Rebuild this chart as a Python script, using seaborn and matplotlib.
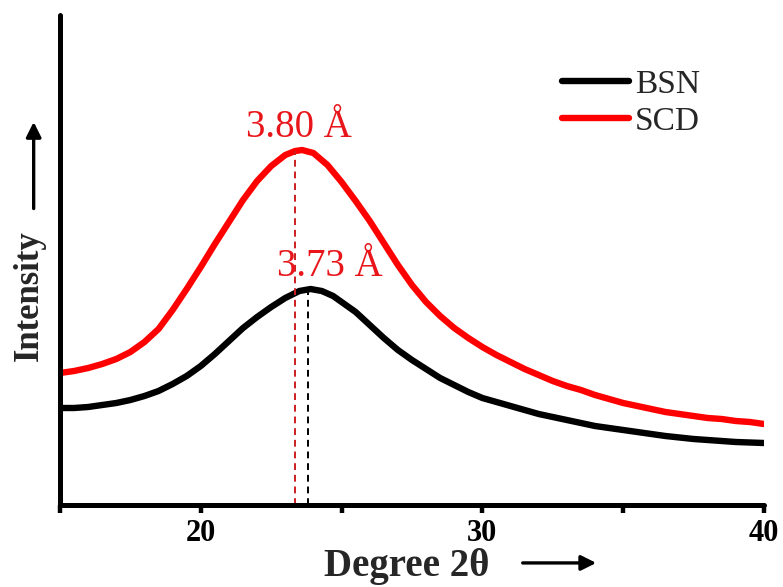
import numpy as np
import pandas as pd
import matplotlib
matplotlib.use("Agg")
import matplotlib.pyplot as plt
import seaborn as sns

# XRD profiles (2θ in degrees, intensity in arbitrary units)
two_theta_scd = [15.0, 15.5, 16.0, 16.5, 17.0, 17.5, 18.0, 18.5, 19.0, 19.5,
                 20.0, 20.5, 21.0, 21.5, 22.0, 22.5, 23.0, 23.35, 23.6, 24.0,
                 24.5, 25.0, 25.5, 26.0, 26.5, 27.0, 27.5, 28.0, 28.5, 29.0,
                 29.5, 30.0, 30.5, 31.0, 31.5, 32.0, 32.5, 33.0, 33.5, 34.0,
                 34.5, 35.0, 35.5, 36.0, 36.5, 37.0, 37.5, 38.0, 38.5, 39.0,
                 39.5, 40.0]
intensity_scd = [132, 134, 137, 141, 146, 153, 163, 176, 195, 216,
                 238, 261, 283, 305, 324, 339, 350, 354, 355, 352,
                 340, 323, 304, 284, 262, 240, 220, 203, 189, 177,
                 167, 158, 150, 143, 136, 130, 124, 119, 115, 110,
                 106, 102, 99, 96, 93, 91, 89, 87, 86, 84,
                 83, 81]

two_theta_bsn = [15.0, 15.5, 16.0, 16.5, 17.0, 17.5, 18.0, 18.5, 19.0, 19.5,
                 20.0, 20.5, 21.0, 21.5, 22.0, 22.5, 23.0, 23.5, 23.9, 24.3,
                 24.7, 25.0, 25.5, 26.0, 26.5, 27.0, 27.5, 28.0, 28.5, 29.0,
                 29.5, 30.0, 30.5, 31.0, 31.5, 32.0, 32.5, 33.0, 33.5, 34.0,
                 34.5, 35.0, 35.5, 36.0, 36.5, 37.0, 37.5, 38.0, 38.5, 39.0,
                 39.5, 40.0]
intensity_bsn = [97, 97, 98, 100, 102, 105, 109, 114, 121, 129,
                 139, 151, 164, 177, 188, 198, 207, 214, 216, 214,
                 209, 203, 193, 180, 167, 155, 145, 136, 127, 120,
                 113, 107, 103, 99, 95, 91, 88, 85, 82, 79,
                 77, 75, 73, 71, 69, 67.5, 66, 65, 64, 63,
                 62.5, 62]

series_names = ["BSN", "SCD"]
peak_positions = {"SCD": 23.35, "BSN": 23.81}
peak_labels = {"SCD": "3.80 Å", "BSN": "3.73 Å"}

df = pd.concat([
    pd.DataFrame({"2theta": two_theta_bsn, "I": intensity_bsn, "sample": "BSN"}),
    pd.DataFrame({"2theta": two_theta_scd, "I": intensity_scd, "sample": "SCD"}),
])

sns.set_style("white")
plt.rcParams["font.family"] = ["Liberation Serif", "DejaVu Serif"]

fig = plt.figure(figsize=(7.83, 5.87), dpi=100)
ax = fig.add_axes([0.0766, 0.1397, 0.8991, 0.8347])

palette = {"BSN": "#000000", "SCD": "#ff0000"}
sns.lineplot(data=df, x="2theta", y="I", hue="sample", hue_order=series_names,
             palette=palette, linewidth=4.6, ax=ax, sort=False,
             solid_capstyle="round", solid_joinstyle="round")

ax.set_xlim(15, 40)
ax.set_ylim(0, 490)

# dashed markers from each peak down to the baseline
def peak_height(xs, ys, x0):
    return float(np.interp(x0, xs, ys))

h_scd = peak_height(two_theta_scd, intensity_scd, peak_positions["SCD"])
h_bsn = peak_height(two_theta_bsn, intensity_bsn, peak_positions["BSN"])
ax.plot([peak_positions["SCD"]] * 2, [0, h_scd], ls=(0, (3.5, 2.5)),
        color="#cc1f1f", lw=1.4)
ax.plot([peak_positions["BSN"]] * 2, [0, h_bsn], ls=(0, (3.5, 2.5)),
        color="#000000", lw=1.4)

ax.text(23.5, 378, peak_labels["SCD"], color="#e8161b", fontsize=28,
        ha="center", va="center")
ax.text(24.6, 239, peak_labels["BSN"], color="#e8161b", fontsize=28,
        ha="center", va="center")

# axes styling
for side in ["top", "right"]:
    ax.spines[side].set_visible(False)
for side in ["left", "bottom"]:
    ax.spines[side].set_linewidth(3.6)
    ax.spines[side].set_color("black")
    ax.spines[side].set_capstyle("round")

ax.set_xticks([20, 30, 40])
ax.set_xticks([15, 25, 35], minor=True)
ax.set_yticks([])
ax.tick_params(axis="x", which="both", direction="out", length=6, width=3.2,
               colors="black", bottom=True)
ax.tick_params(axis="x", which="major", labelsize=22, pad=4)
for lbl in ax.get_xticklabels():
    lbl.set_fontweight("bold")

ax.set_xlabel("")
ax.set_ylabel("")

# axis titles with arrows
fig.text(0.519, 0.035, "Degree 2θ", fontsize=28, fontweight="bold",
         ha="center", va="center")
fig.text(0.037, 0.497, "Intensity", fontsize=25, fontweight="bold",
         ha="center", va="center", rotation=90)
fig.add_artist(matplotlib.patches.FancyArrowPatch(
    (0.664, 0.041), (0.765, 0.041), transform=fig.transFigure,
    arrowstyle="-|>,head_length=9,head_width=4.5", lw=2.4, color="black",
    mutation_scale=1))
fig.add_artist(matplotlib.patches.FancyArrowPatch(
    (0.043, 0.640), (0.043, 0.797), transform=fig.transFigure,
    arrowstyle="-|>,head_length=9,head_width=4.5", lw=2.4, color="black",
    mutation_scale=1))

leg = ax.legend(loc="upper left", bbox_to_anchor=(0.694, 0.917), frameon=False,
                fontsize=24, handlelength=2.0, handletextpad=0.2,
                labelspacing=0.2, borderaxespad=0)
for line in leg.get_lines():
    line.set_linewidth(4.6)

fig.savefig("out.png", dpi=100)
